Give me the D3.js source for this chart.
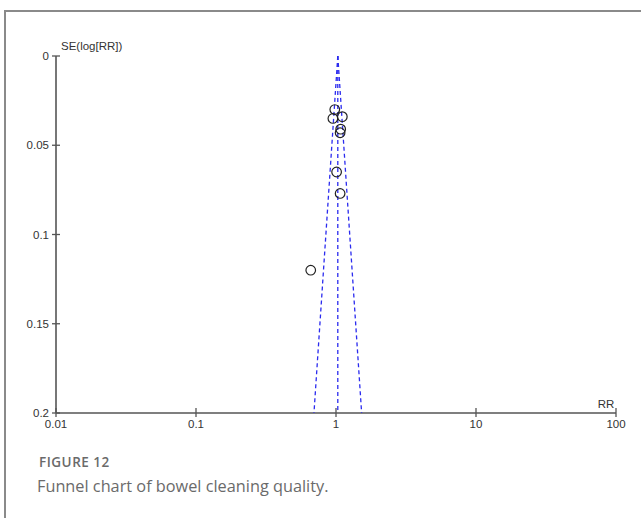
<!DOCTYPE html>
<html>
<head>
<meta charset="utf-8">
<script src="https://cdn.jsdelivr.net/npm/d3@7"></script>
<style>
  body { margin: 0; background: #fff; }
  svg { display: block; }
</style>
</head>
<body>
<svg id="chart" width="641" height="518"></svg>
<script>
// study values
const studyRR = [0.98, 0.95, 1.11, 1.08, 1.07, 1.01, 1.07, 0.66];
const studySE = [0.030, 0.035, 0.034, 0.041, 0.043, 0.065, 0.077, 0.120];
const pooledRR = 1.03;
const xTicks = [0.01, 0.1, 1, 10, 100];
const yTicks = [0, 0.05, 0.1, 0.15, 0.2];

const svg = d3.select("#chart");

// frame round the figure
svg.append("path")
  .attr("d", "M5,530 L5,11 L660,11")
  .attr("fill", "none")
  .attr("stroke", "#8a8a8a")
  .attr("stroke-width", 2);

const x = d3.scaleLog().domain([0.01, 100]).range([56, 616]);
const y = d3.scaleLinear().domain([0, 0.2]).range([56, 413]);

const axisColor = "#555";
const tickFont = "Liberation Sans, Arial, sans-serif";
const tickSize = 11.5;

// y axis
svg.append("line")
  .attr("x1", x(0.01)).attr("x2", x(0.01))
  .attr("y1", y(0)).attr("y2", y(0.2))
  .attr("stroke", axisColor).attr("stroke-width", 1.6);

svg.selectAll(".ytick")
  .data(yTicks)
  .enter()
  .append("line")
  .attr("x1", x(0.01) - 4).attr("x2", x(0.01) + 4)
  .attr("y1", d => y(d)).attr("y2", d => y(d))
  .attr("stroke", axisColor).attr("stroke-width", 1.3);

svg.selectAll(".ylab")
  .data(yTicks)
  .enter()
  .append("text")
  .attr("x", x(0.01) - 7)
  .attr("y", d => y(d) + 4)
  .attr("text-anchor", "end")
  .attr("font-family", tickFont)
  .attr("font-size", tickSize)
  .attr("fill", "#333")
  .text(d => d);

// x axis
svg.append("line")
  .attr("x1", x(0.01)).attr("x2", x(100))
  .attr("y1", y(0.2)).attr("y2", y(0.2))
  .attr("stroke", axisColor).attr("stroke-width", 1.6);

svg.selectAll(".xtick")
  .data(xTicks)
  .enter()
  .append("line")
  .attr("x1", d => x(d)).attr("x2", d => x(d))
  .attr("y1", y(0.2) - 5).attr("y2", y(0.2) + 4)
  .attr("stroke", axisColor).attr("stroke-width", 1.3);

svg.selectAll(".xlab")
  .data(xTicks)
  .enter()
  .append("text")
  .attr("x", d => x(d))
  .attr("y", y(0.2) + 15)
  .attr("text-anchor", "middle")
  .attr("font-family", tickFont)
  .attr("font-size", tickSize)
  .attr("fill", "#333")
  .text(d => d);

// axis titles
svg.append("text")
  .attr("x", x(0.01) + 5).attr("y", y(0) - 6)
  .attr("font-family", tickFont).attr("font-size", tickSize).attr("fill", "#333")
  .text("SE(log[RR])");

svg.append("text")
  .attr("x", x(100) - 10).attr("y", y(0.2) - 5)
  .attr("text-anchor", "middle")
  .attr("font-family", tickFont).attr("font-size", tickSize).attr("fill", "#333")
  .text("RR");

// funnel: pooled line and 95% limits
const seMax = 0.2;
const funnel = [
  [[pooledRR, 0], [pooledRR, seMax]],
  [[pooledRR, 0], [pooledRR * Math.exp(-1.96 * seMax), seMax]],
  [[pooledRR, 0], [pooledRR * Math.exp(1.96 * seMax), seMax]]
];
const line = d3.line().x(d => x(d[0])).y(d => y(d[1]));

svg.selectAll(".funnel")
  .data(funnel)
  .enter()
  .append("path")
  .attr("d", line)
  .attr("fill", "none")
  .attr("stroke", "#2b2bef")
  .attr("stroke-width", 1.3)
  .attr("stroke-dasharray", "4,3");

// studies
svg.selectAll(".study")
  .data(studyRR.map((r, i) => ({ rr: r, se: studySE[i] })))
  .enter()
  .append("circle")
  .attr("cx", d => x(d.rr))
  .attr("cy", d => y(d.se))
  .attr("r", 4.8)
  .attr("fill", "none")
  .attr("stroke", "#222")
  .attr("stroke-width", 1.2);

// caption
svg.append("text")
  .attr("x", 39).attr("y", 467)
  .attr("font-family", "Open Sans, sans-serif")
  .attr("font-size", 13.5).attr("font-weight", 600)
  .attr("letter-spacing", 0.5)
  .attr("fill", "#6a6a6a")
  .text("FIGURE 12");

svg.append("text")
  .attr("x", 37).attr("y", 492)
  .attr("font-family", "Open Sans, sans-serif")
  .attr("font-size", 16.3)
  .attr("fill", "#6a6a6a")
  .text("Funnel chart of bowel cleaning quality.");
</script>
</body>
</html>
